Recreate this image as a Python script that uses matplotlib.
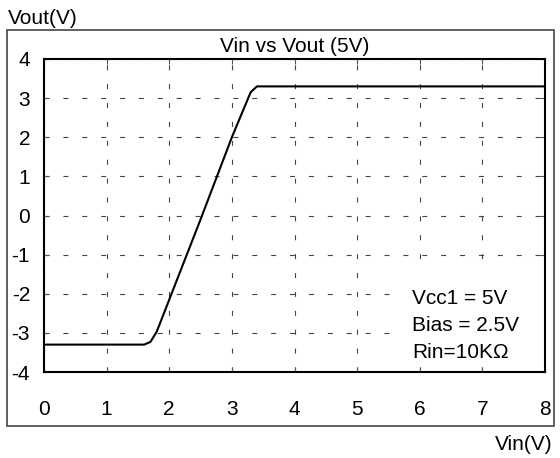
import matplotlib as mpl
import matplotlib.pyplot as plt
from matplotlib.patches import Rectangle

plt.rcParams['font.family'] = ['Liberation Sans', 'DejaVu Sans']
plt.rcParams['lines.scale_dashes'] = False
plt.rcParams['axes.unicode_minus'] = False

# transfer curve of the amplifier
vin = [0, 1.6, 1.7, 1.8, 2.0, 2.5, 3.0, 3.3, 3.4, 8]
vout = [-3.3, -3.3, -3.23, -2.97, -2.15, -0.1, 2.0, 3.15, 3.3, 3.3]

x_ticks = list(range(0, 9))
y_ticks = list(range(-4, 5))
notes = ['Vcc1 = 5V', 'Bias = 2.5V', 'Rin=10K\u03a9']

W, H = 560, 458
fig = plt.figure(figsize=(W / 100, H / 100), dpi=100)
ax = fig.add_axes([44 / W, 1 - 372 / H, (545 - 44) / W, (372 - 59) / H])

# outer frame around the plot
fig.patches.append(Rectangle((7 / W, 1 - 426 / H), (554 - 7) / W, (426 - 30) / H,
                             transform=fig.transFigure, fill=False,
                             edgecolor='#444444', linewidth=1.2))

ax.plot(vin, vout, color='black', linewidth=1.5, zorder=3)

ax.set_xlim(0, 8)
ax.set_ylim(-4, 4)
ax.set_xticks(x_ticks)
ax.set_yticks(y_ticks)
ax.tick_params(direction='in', length=3.5, width=0.8, color='#555555',
               labelsize=15, top=True, right=True)
ax.tick_params(axis='x', pad=20)
ax.tick_params(axis='y', pad=10)
ax.grid(True, color='#444444', linewidth=0.8, dashes=(3.6, 10))
for s in ax.spines.values():
    s.set_linewidth(1.5)
    s.set_zorder(5)

ax.set_title('Vin vs Vout (5V)', fontsize=15, pad=5)
fig.text(8 / W, 1 - 18 / H, 'Vout(V)', fontsize=15, va='center', ha='left')
fig.text(553 / W, 1 - 444 / H, 'Vin(V)', fontsize=15, va='center', ha='right')

# white panel behind the circuit parameters hides the grid there
ax.add_patch(Rectangle((0.71, 0.02), 0.29, 0.30, transform=ax.transAxes,
                       facecolor='white', edgecolor='none', zorder=2.5))

for i, t in enumerate(notes):
    ax.text(5.88, -2.11 - 0.69 * i, t, fontsize=15, va='center', ha='left',
            zorder=4)

fig.savefig('out.png', dpi=100)
